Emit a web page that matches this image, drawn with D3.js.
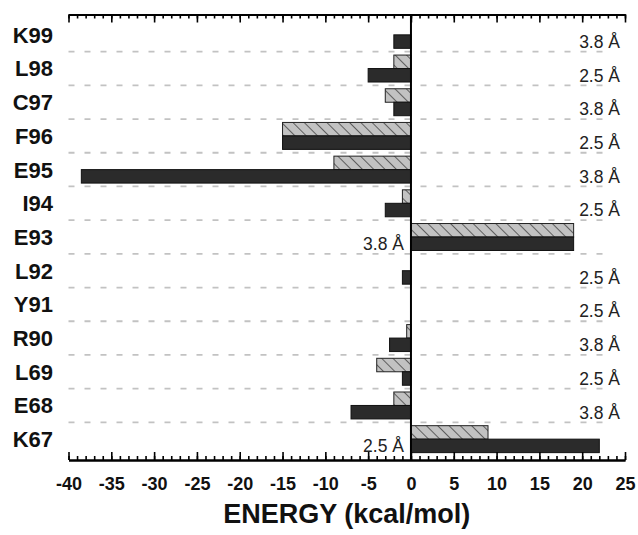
<!DOCTYPE html>
<html>
<head>
<meta charset="utf-8">
<script src="https://cdn.jsdelivr.net/npm/d3@7"></script>
<style>
  body { margin: 0; background: #fff; }
  svg { display: block; font-family: 'Liberation Sans', Arial, sans-serif; }
</style>
</head>
<body>
<svg id="chart" width="638" height="535"></svg>
<script>
// residues, top to bottom
const residues = ['K99', 'L98', 'C97', 'F96', 'E95', 'I94', 'E93', 'L92', 'Y91', 'R90', 'L69', 'E68', 'K67'];
// hatched (upper) bar of each row
const hatchedValues = [0, -2, -3, -15, -9, -1, 19, 0, 0, -0.5, -4, -2, 9];
// solid (lower) bar of each row
const solidValues = [-2, -5, -2, -15, -38.5, -3, 19, -1, 0, -2.5, -1, -7, 22];
const distances = ['3.8 Å', '2.5 Å', '3.8 Å', '2.5 Å', '3.8 Å', '2.5 Å', '3.8 Å', '2.5 Å', '2.5 Å', '3.8 Å', '2.5 Å', '3.8 Å', '2.5 Å'];
const majorTicks = d3.range(-40, 26, 5);
const minorTicks = d3.range(-40, 26, 1);

const svg = d3.select('#chart');
const plotLeft = 68.5;
const plotRight = 625;
const plotTop = 14.5;
const plotBottom = 460;

const x = d3.scaleLinear().domain([-40, 25]).range([plotLeft, plotRight]);
const y = d3.scaleBand().domain(residues).range([18, 456]);
const sub = d3.scaleBand().domain(['hatched', 'solid']).range([0, y.bandwidth()]).paddingOuter(0.25);

// hatch pattern
const defs = svg.append('defs');
const pat = defs.append('pattern')
  .attr('id', 'hatch')
  .attr('patternUnits', 'userSpaceOnUse')
  .attr('width', 8)
  .attr('height', 8)
  .attr('patternTransform', 'rotate(-45)');
pat.append('rect')
  .attr('width', 8)
  .attr('height', 8)
  .attr('fill', '#c2c2c2');
pat.append('line')
  .attr('x1', 0).attr('y1', 0)
  .attr('x2', 0).attr('y2', 8)
  .attr('stroke', '#444')
  .attr('stroke-width', 1.6);

// dashed row separators
svg.append('g')
  .selectAll('line')
  .data(residues.slice(1))
  .join('line')
  .attr('x1', plotLeft)
  .attr('x2', 612)
  .attr('y1', d => y(d))
  .attr('y2', d => y(d))
  .attr('stroke', '#c2c2c2')
  .attr('stroke-width', 1.8)
  .attr('stroke-dasharray', '6,10');

// distance labels
svg.append('g')
  .selectAll('text')
  .data(residues)
  .join('text')
  .attr('x', (d, i) => (i === 6 || i === 12) ? x(0) - 7 : 620)
  .attr('y', d => y(d) + sub('solid') + sub.bandwidth() / 2)
  .attr('dy', '0.36em')
  .attr('text-anchor', 'end')
  .attr('font-size', 17.5)
  .attr('fill', '#222')
  .text((d, i) => distances[i]);

// bars
const bars = svg.append('g');
bars.selectAll('.hatched')
  .data(residues)
  .join('rect')
  .attr('class', 'hatched')
  .attr('x', (d, i) => x(Math.min(0, hatchedValues[i])))
  .attr('width', (d, i) => Math.abs(x(hatchedValues[i]) - x(0)))
  .attr('y', d => y(d) + sub('hatched'))
  .attr('height', sub.bandwidth())
  .attr('fill', 'url(#hatch)')
  .attr('stroke', '#222')
  .attr('stroke-width', 1)
  .style('display', (d, i) => hatchedValues[i] === 0 ? 'none' : null);

bars.selectAll('.solid')
  .data(residues)
  .join('rect')
  .attr('class', 'solid')
  .attr('x', (d, i) => x(Math.min(0, solidValues[i])))
  .attr('width', (d, i) => Math.abs(x(solidValues[i]) - x(0)))
  .attr('y', d => y(d) + sub('solid'))
  .attr('height', sub.bandwidth())
  .attr('fill', '#2b2b2b')
  .attr('stroke', '#111')
  .attr('stroke-width', 1)
  .style('display', (d, i) => solidValues[i] === 0 ? 'none' : null);

// zero line
svg.append('line')
  .attr('x1', x(0)).attr('x2', x(0))
  .attr('y1', plotTop).attr('y2', plotBottom)
  .attr('stroke', '#000')
  .attr('stroke-width', 2);

// axes
function styleAxis(g) {
  g.select('.domain').attr('stroke-width', 2);
  g.selectAll('.tick line').attr('stroke-width', 1.6);
}

svg.append('g')
  .attr('transform', `translate(0,${plotTop})`)
  .call(d3.axisTop(x).tickValues(minorTicks).tickSize(-4).tickSizeOuter(0).tickFormat(''))
  .call(styleAxis);
svg.append('g')
  .attr('transform', `translate(0,${plotTop})`)
  .call(d3.axisTop(x).tickValues(majorTicks).tickSize(-8).tickSizeOuter(0).tickFormat(''))
  .call(styleAxis);

svg.append('g')
  .attr('transform', `translate(0,${plotBottom})`)
  .call(d3.axisBottom(x).tickValues(minorTicks).tickSize(-4).tickSizeOuter(0).tickFormat(''))
  .call(styleAxis);
svg.append('g')
  .attr('transform', `translate(0,${plotBottom})`)
  .call(d3.axisBottom(x).tickValues(majorTicks).tickSize(-8).tickSizeOuter(0).tickPadding(17)
    .tickFormat(d => String(d)))
  .call(styleAxis)
  .call(g => g.selectAll('text')
    .attr('font-size', 18)
    .attr('font-weight', 'bold')
    .attr('font-family', "'Liberation Sans', Arial, sans-serif")
    .attr('fill', '#111'));

// residue labels
svg.append('g')
  .selectAll('text')
  .data(residues)
  .join('text')
  .attr('x', 53)
  .attr('y', d => y(d) + y.bandwidth() / 2)
  .attr('dy', '0.36em')
  .attr('text-anchor', 'end')
  .attr('font-size', 22)
  .attr('font-weight', 'bold')
  .attr('fill', '#111')
  .text(d => d);

// axis title
svg.append('text')
  .attr('x', (plotLeft + plotRight) / 2)
  .attr('y', 523)
  .attr('text-anchor', 'middle')
  .attr('font-size', 27)
  .attr('font-weight', 'bold')
  .attr('fill', '#111')
  .text('ENERGY (kcal/mol)');
</script>
</body>
</html>
